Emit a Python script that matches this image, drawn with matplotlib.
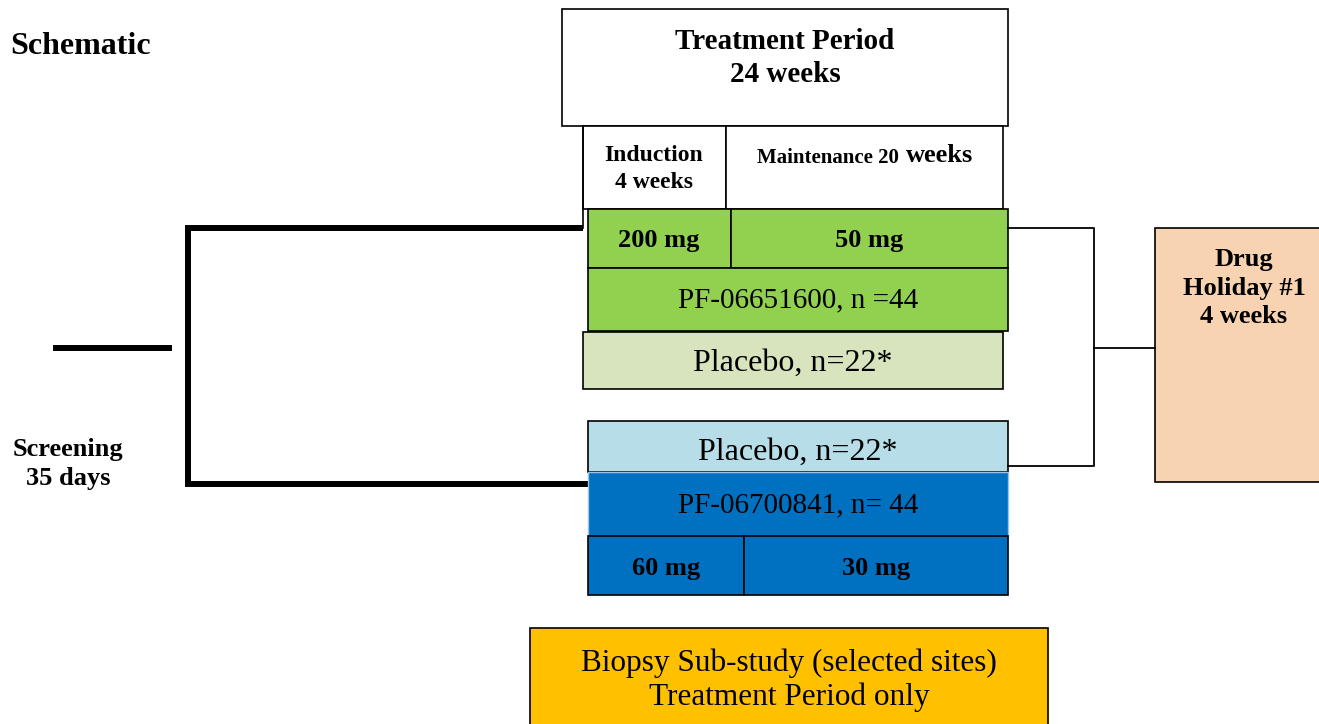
import matplotlib.pyplot as plt
from matplotlib.patches import Rectangle

plt.rcParams['font.family'] = ['Liberation Serif', 'DejaVu Serif']

# -----------------------------
# Labels
# -----------------------------
title = "Schematic"
period_label = "Treatment Period\n24 weeks"
phase_labels = ["Induction\n4 weeks", "Maintenance 20"]
arm1_doses = ["200 mg", "50 mg"]
arm1_label = "PF-06651600, n =44"
arm2_doses = ["60 mg", "30 mg"]
arm2_label = "PF-06700841, n= 44"
placebo_label = "Placebo, n=22*"
holiday_label = "Drug\nHoliday #1\n4 weeks"
screening_label = "Screening\n35 days"
biopsy_label = "Biopsy Sub-study (selected sites)\nTreatment Period only"

# colours
green = "#92D050"
light_green = "#D7E4BD"
light_blue = "#B7DDE8"
blue = "#0070C0"
peach = "#F8D3B2"
gold = "#FFC000"

fig = plt.figure(figsize=(13.19, 7.24), dpi=100)
ax = fig.add_axes([0, 0, 1, 1])
ax.set_xlim(0, 1319)
ax.set_ylim(724, 0)
ax.axis('off')


def box(x0, y0, x1, y1, fc="white", ec="black", lw=1.2, z=2):
    ax.add_patch(Rectangle((x0, y0), x1 - x0, y1 - y0, facecolor=fc,
                           edgecolor=ec, linewidth=lw, zorder=z))


def label(x, y, s, size, bold=False, ls=1.33, **kw):
    # small downward nudge so the glyphs sit where the reference has them
    ax.text(x, y + 2, s, fontsize=size, ha=kw.pop('ha', 'center'), va='center',
            fontweight='bold' if bold else 'normal', linespacing=ls,
            zorder=5, **kw)


# header boxes
box(562, 9, 1008, 126)
label(785, 56, period_label, 21, bold=True)
box(583, 126, 726, 209)
box(726, 126, 1003, 209)
label(654, 167, phase_labels[0], 17, bold=True)
label(828, 156, phase_labels[1], 15, bold=True)
label(940, 154, "weeks", 19, bold=True)

# arm 1
box(588, 209, 731, 268, fc=green)
box(731, 209, 1008, 268, fc=green)
label(659, 238, arm1_doses[0], 19, bold=True)
label(869, 238, arm1_doses[1], 19, bold=True)
box(588, 268, 1008, 331, fc=green)
label(798, 298, arm1_label, 21)
box(583, 332, 1003, 389, fc=light_green)
label(793, 361, placebo_label, 23)

# arm 2
box(588, 421, 1008, 472, fc=light_blue)
label(798, 450, placebo_label, 23)
box(588, 472, 1008, 536, fc=blue, ec="#9DC3E6", lw=1.0)
label(798, 503, arm2_label, 21)
box(588, 536, 744, 595, fc=blue)
box(744, 536, 1008, 595, fc=blue)
label(666, 566, arm2_doses[0], 19, bold=True)
label(876, 566, arm2_doses[1], 19, bold=True)

# drug holiday and connectors
box(1155, 228, 1330, 482, fc=peach)
label(1244, 286, holiday_label, 19, bold=True)
ax.plot([1008, 1094, 1094, 1008], [228, 228, 466, 466], color="black", lw=1.3, zorder=3)
ax.plot([1094, 1155], [348, 348], color="black", lw=1.3, zorder=3)

# screening bracket
ax.plot([53, 172], [348, 348], color="black", lw=4.3, solid_capstyle='butt')
ax.plot([583, 188, 188, 588], [228, 228, 484, 484], color="black", lw=4.3,
        solid_joinstyle='miter', solid_capstyle='butt', zorder=1)
ax.plot([583, 583], [126, 228], color="black", lw=1.2, zorder=3)
label(68, 462, screening_label, 19, bold=True)

# biopsy box
box(530, 628, 1048, 740, fc=gold)
label(789, 678, biopsy_label, 22.5, ls=1.2)

label(10, 44, title, 23, bold=True, ha='left')

fig.savefig("out.png", dpi=100)
